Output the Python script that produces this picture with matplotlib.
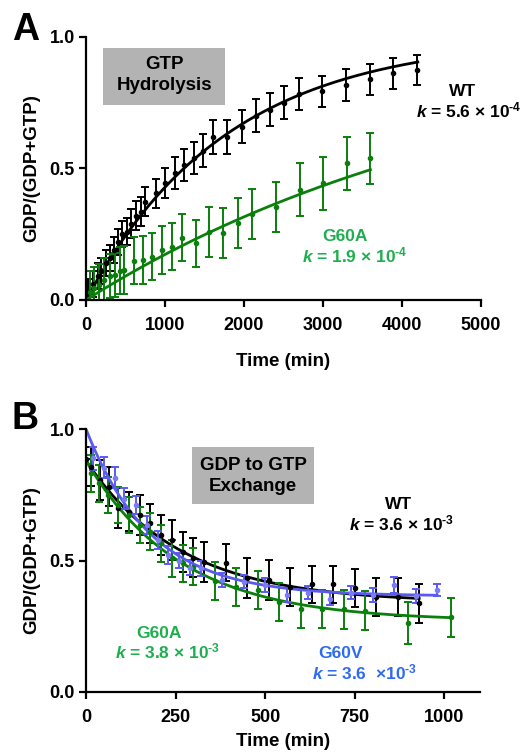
import numpy as np
import matplotlib
matplotlib.use("Agg")
import matplotlib.pyplot as plt
from matplotlib.patches import Rectangle
from matplotlib.ticker import FormatStrFormatter

plt.rcParams['font.family'] = ['Liberation Sans', 'DejaVu Sans']
plt.rcParams['font.weight'] = 'bold'
plt.rcParams['mathtext.fontset'] = 'custom'
plt.rcParams['mathtext.rm'] = 'Liberation Sans:bold'
plt.rcParams['mathtext.bf'] = 'Liberation Sans:bold'
plt.rcParams['mathtext.it'] = 'Liberation Sans:italic'

# ---------------- Panel A : GTP hydrolysis ----------------
a_wt_t = [30, 90, 150, 195, 250, 300, 360, 405, 460, 515, 570, 630, 690, 750,
          885, 1000, 1120, 1245, 1370, 1485, 1605, 1780, 1970, 2150, 2330, 2510,
          2690, 2990, 3290, 3590, 3890, 4190]
a_wt_y = [0.03, 0.06, 0.09, 0.11, 0.14, 0.16, 0.19, 0.22, 0.25, 0.26, 0.29, 0.32,
          0.335, 0.374, 0.406, 0.444, 0.482, 0.513, 0.539, 0.568, 0.619, 0.619,
          0.659, 0.70, 0.724, 0.75, 0.783, 0.793, 0.817, 0.839, 0.862, 0.875]
a_wt_err = [0.05, 0.05, 0.05, 0.05, 0.05, 0.05, 0.05, 0.05, 0.05, 0.05, 0.055, 0.055,
            0.055, 0.055, 0.055, 0.058, 0.06, 0.06, 0.06, 0.063, 0.065, 0.065,
            0.063, 0.063, 0.063, 0.063, 0.06, 0.06, 0.06, 0.06, 0.058, 0.058]

a_g60a_t = [50, 105, 170, 230, 305, 365, 430, 485, 610, 725, 840, 965, 1085, 1210,
            1390, 1560, 1740, 1920, 2100, 2400, 2705, 3000, 3300, 3600]
a_g60a_y = [0.032, 0.044, 0.057, 0.076, 0.091, 0.095, 0.111, 0.114, 0.15, 0.152,
            0.165, 0.19, 0.203, 0.237, 0.215, 0.26, 0.253, 0.294, 0.327, 0.352,
            0.42, 0.444, 0.52, 0.538]
a_g60a_err = [0.08, 0.08, 0.08, 0.085, 0.085, 0.085, 0.09, 0.09, 0.09, 0.09, 0.09,
              0.09, 0.09, 0.09, 0.09, 0.095, 0.095, 0.095, 0.095, 0.095, 0.1, 0.1,
              0.1, 0.096]

# fit parameters (one-phase association): y = 1 - exp(-k t)
a_wt_k, a_wt_tmax = 5.6e-4, 4200
a_g60a_k, a_g60a_tmax = 1.9e-4, 3600

# ---------------- Panel B : GDP to GTP exchange ----------------
b_wt_t = [0, 15, 40, 65, 90, 120, 150, 180, 210, 240, 270, 300, 330, 390, 450,
          510, 570, 630, 690, 750, 810, 870, 930]
b_wt_y = [0.886, 0.857, 0.806, 0.781, 0.70, 0.686, 0.673, 0.641, 0.597, 0.578,
          0.533, 0.511, 0.494, 0.492, 0.433, 0.426, 0.40, 0.409, 0.409, 0.394,
          0.362, 0.362, 0.337]
b_wt_err = [0.0, 0.075, 0.075, 0.075, 0.075, 0.075, 0.075, 0.075, 0.075, 0.075,
            0.075, 0.075, 0.075, 0.07, 0.075, 0.075, 0.072, 0.07, 0.07, 0.072,
            0.072, 0.072, 0.075]

b_g60a_t = [15, 35, 60, 90, 120, 150, 180, 210, 240, 270, 300, 360, 420, 480, 540,
            600, 660, 720, 780, 900, 1020]
b_g60a_y = [0.831, 0.793, 0.749, 0.711, 0.673, 0.635, 0.609, 0.565, 0.508, 0.489,
            0.476, 0.422, 0.40, 0.388, 0.343, 0.314, 0.314, 0.314, 0.309, 0.264,
            0.284]
b_g60a_err = [0.07, 0.07, 0.07, 0.07, 0.07, 0.07, 0.07, 0.07, 0.07, 0.07, 0.07,
              0.072, 0.072, 0.072, 0.072, 0.072, 0.072, 0.075, 0.075, 0.08, 0.075]

b_g60v_t = [20, 50, 80, 105, 140, 170, 200, 230, 260, 290, 320, 380, 440, 500, 560,
            620, 680, 740, 800, 860, 920, 980]
b_g60v_y = [0.889, 0.853, 0.815, 0.734, 0.711, 0.635, 0.578, 0.521, 0.50, 0.473,
            0.47, 0.426, 0.419, 0.407, 0.369, 0.378, 0.354, 0.378, 0.369, 0.407,
            0.365, 0.388]
b_g60v_err = [0.043, 0.04, 0.04, 0.04, 0.035, 0.035, 0.035, 0.035, 0.03, 0.03, 0.03,
              0.025, 0.025, 0.025, 0.025, 0.025, 0.025, 0.025, 0.025, 0.03, 0.025,
              0.022]

# fit parameters (one-phase decay): y = plateau + (y0 - plateau) exp(-k t)
b_wt_fit = dict(y0=0.88, plateau=0.34, k=3.8e-3, tmax=930)
b_g60a_fit = dict(y0=0.88, plateau=0.27, k=3.8e-3, tmax=1020)
b_g60v_fit = dict(y0=1.0, plateau=0.365, k=5.5e-3, tmax=980)

BLACK = '#000000'
GREEN = '#0b7f0b'
GREEN_TXT = '#1fae4f'
BLUE = '#5a5af2'
BLUE_PT = '#7b7bf5'
BLUE_TXT = '#2f6bf0'

fig = plt.figure(figsize=(5.22, 7.52), dpi=100)
axA = fig.add_axes([0.1648, 0.6011, 0.7567, 0.3497])
axB = fig.add_axes([0.1648, 0.0798, 0.7548, 0.3497])


def style(ax):
    for s in ['top', 'right']:
        ax.spines[s].set_visible(False)
    for s in ['left', 'bottom']:
        ax.spines[s].set_linewidth(1.6)
    ax.tick_params(direction='out', length=5, width=1.6, labelsize=13, pad=3)
    ax.tick_params(axis='x', pad=7)
    for lab in ax.get_xticklabels() + ax.get_yticklabels():
        lab.set_fontweight('bold')


def eb(ax, t, y, e, color, mcolor=None):
    ax.errorbar(t, y, yerr=e, fmt='o', ms=3.0, mfc=mcolor or color, mec=mcolor or color,
                ecolor=color, elinewidth=1.4, capsize=2.8, capthick=1.4)


def klabel(value, exp, sep=' × '):
    return r'$\mathit{k}$ = ' + value + sep + r'10$^{\text{' + exp + r'}}$'


# Panel A
eb(axA, a_wt_t, a_wt_y, a_wt_err, BLACK)
tt = np.linspace(0, a_wt_tmax, 300)
axA.plot(tt, 1 - np.exp(-a_wt_k * tt), color=BLACK, lw=2.0)
eb(axA, a_g60a_t, a_g60a_y, a_g60a_err, GREEN)
tt = np.linspace(0, a_g60a_tmax, 300)
axA.plot(tt, 1 - np.exp(-a_g60a_k * tt), color=GREEN, lw=2.0)
axA.set_xlim(0, 5000)
axA.set_ylim(0, 1.0)
axA.set_xticks([0, 1000, 2000, 3000, 4000, 5000])
axA.set_yticks([0, 0.5, 1.0])
axA.yaxis.set_major_formatter(FormatStrFormatter('%.1f'))
style(axA)
axA.set_xlabel('Time (min)', fontsize=13.5, fontweight='bold', labelpad=14)
axA.set_ylabel('GDP/(GDP+GTP)', fontsize=13.5, fontweight='bold', labelpad=7)

axA.add_patch(Rectangle((0.043, 0.741), 0.309, 0.217, transform=axA.transAxes,
                        facecolor='#b3b3b3', edgecolor='none', zorder=5, clip_on=False))
axA.text(0.198, 0.857, 'GTP\nHydrolysis', transform=axA.transAxes, ha='center',
         va='center', fontsize=13.5, fontweight='bold', linespacing=1.3, zorder=6)
axA.text(0.954, 0.776, 'WT', transform=axA.transAxes, ha='center', va='baseline',
         fontsize=12.5, fontweight='bold', color=BLACK)
axA.text(0.970, 0.695, klabel('5.6', '-4'), transform=axA.transAxes,
         ha='center', va='baseline', fontsize=12.5, fontweight='bold', color=BLACK)
axA.text(0.656, 0.2255, 'G60A', transform=axA.transAxes, ha='center', va='baseline',
         fontsize=12.5, fontweight='bold', color=GREEN_TXT)
axA.text(0.681, 0.143, klabel('1.9', '-4'), transform=axA.transAxes,
         ha='center', va='baseline', fontsize=12.5, fontweight='bold', color=GREEN_TXT)

# Panel B
def decay(p):
    t = np.linspace(0, p['tmax'], 300)
    return t, p['plateau'] + (p['y0'] - p['plateau']) * np.exp(-p['k'] * t)

eb(axB, b_wt_t, b_wt_y, b_wt_err, BLACK)
axB.plot(*decay(b_wt_fit), color=BLACK, lw=2.0)
eb(axB, b_g60a_t, b_g60a_y, b_g60a_err, GREEN)
axB.plot(*decay(b_g60a_fit), color=GREEN, lw=2.0)
eb(axB, b_g60v_t, b_g60v_y, b_g60v_err, BLUE, BLUE_PT)
axB.plot(*decay(b_g60v_fit), color=BLUE, lw=2.0)
axB.set_xlim(0, 1100)
axB.set_ylim(0, 1.0)
axB.set_xticks([0, 250, 500, 750, 1000])
axB.set_yticks([0, 0.5, 1.0])
axB.yaxis.set_major_formatter(FormatStrFormatter('%.1f'))
style(axB)
axB.set_xlabel('Time (min)', fontsize=13.5, fontweight='bold', labelpad=5)
axB.set_ylabel('GDP/(GDP+GTP)', fontsize=13.5, fontweight='bold', labelpad=7)

axB.add_patch(Rectangle((0.269, 0.715), 0.310, 0.217, transform=axB.transAxes,
                        facecolor='#b3b3b3', edgecolor='none', zorder=5))
axB.text(0.424, 0.823, 'GDP to GTP\nExchange', transform=axB.transAxes, ha='center',
         va='center', fontsize=13.5, fontweight='bold', linespacing=1.3, zorder=6)
axB.text(0.792, 0.697, 'WT', transform=axB.transAxes, ha='center', va='baseline',
         fontsize=12.5, fontweight='bold', color=BLACK)
axB.text(0.800, 0.615, klabel('3.6', '-3'), transform=axB.transAxes,
         ha='center', va='baseline', fontsize=12.5, fontweight='bold', color=BLACK)
axB.text(0.185, 0.2066, 'G60A', transform=axB.transAxes, ha='center', va='baseline',
         fontsize=12.5, fontweight='bold', color=GREEN_TXT)
axB.text(0.208, 0.1268, klabel('3.8', '-3'), transform=axB.transAxes,
         ha='center', va='baseline', fontsize=12.5, fontweight='bold', color=GREEN_TXT)
axB.text(0.647, 0.1305, 'G60V', transform=axB.transAxes, ha='center', va='baseline',
         fontsize=12.5, fontweight='bold', color=BLUE_TXT)
axB.text(0.708, 0.0482, klabel('3.6', '-3', sep='  ×'), transform=axB.transAxes,
         ha='center', va='baseline', fontsize=12.5, fontweight='bold', color=BLUE_TXT)

# panel letters
fig.text(12 / 522, 1 - 40 / 752, 'A', fontsize=27, fontweight='bold', ha='left', va='baseline')
fig.text(12 / 522, 1 - 429 / 752, 'B', fontsize=27, fontweight='bold', ha='left', va='baseline')

fig.savefig('out.png', dpi=100)
